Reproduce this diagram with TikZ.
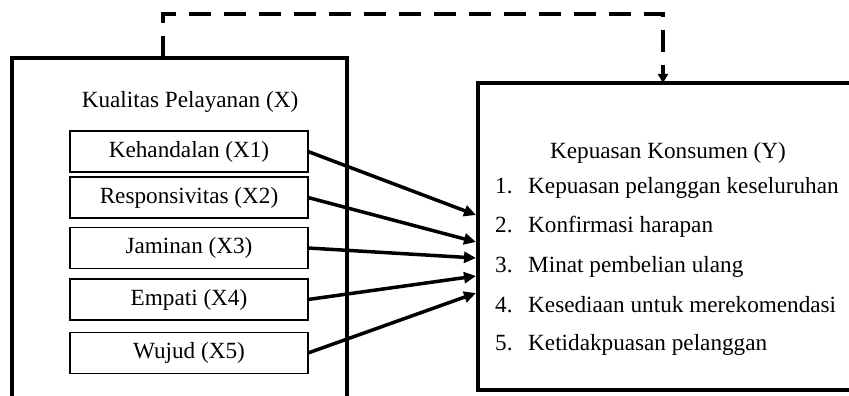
\documentclass[tikz,border=0pt]{standalone}
\usepackage{fontspec}
\setmainfont{Liberation Serif}
\usetikzlibrary{arrows.meta}
\tikzset{
  kotakluar/.style={draw, line width=3.5pt, anchor=north west, inner sep=0pt, outer sep=0pt},
  kotakdimensi/.style={draw, line width=1.6pt, minimum width=238pt, minimum height=41pt, inner sep=0pt, outer sep=0pt},
  teks/.style={anchor=base west, inner sep=0pt},
  judul/.style={anchor=base, inner sep=0pt},
  panah/.style={line width=3.5pt, -{Triangle[length=12pt,width=11pt]}},
  putus/.style={line width=4.5pt, dash pattern=on 22pt off 13pt, -{Triangle[length=9pt,width=10pt]}},
}
\begin{document}
\begin{tikzpicture}[x=1pt,y=-1pt,font=\fontsize{23.2}{27}\selectfont]
      \useasboundingbox (0,0) rectangle (849,396);
      \clip (0,0) rectangle (849,396);
      \node[kotakluar, minimum width=335pt, minimum height=372pt] (kualitas) at (12,58) {};
      \node[kotakluar, minimum width=402pt, minimum height=307pt] (kepuasan) at (478,83) {};
      \node[judul] (judulx) at (190,107) {Kualitas Pelayanan (X)};
      \node[kotakdimensi] (x1) at (189,151.5) {Kehandalan (X1)};
      \node[kotakdimensi] (x2) at (189,197.5) {Responsivitas (X2)};
      \node[kotakdimensi] (x3) at (189,248) {Jaminan (X3)};
      \node[kotakdimensi] (x4) at (189,299.5) {Empati (X4)};
      \node[kotakdimensi] (x5) at (189,353) {Wujud (X5)};
      \node[judul] (juduly) at (668,158) {Kepuasan Konsumen (Y)};
      \node[teks] (n1) at (495,193) {1.};
      \node[teks] (i1) at (528,193) {Kepuasan pelanggan keseluruhan};
      \node[teks] (n2) at (495,232) {2.};
      \node[teks] (i2) at (528,232) {Konfirmasi harapan};
      \node[teks] (n3) at (495,272) {3.};
      \node[teks] (i3) at (528,272) {Minat pembelian ulang};
      \node[teks] (n4) at (495,312) {4.};
      \node[teks] (i4) at (528,312) {Kesediaan untuk merekomendasi};
      \node[teks] (n5) at (495,350) {5.};
      \node[teks] (i5) at (528,350) {Ketidakpuasan pelanggan};
      \coordinate (t1) at (476,215);
      \coordinate (t2) at (476,242);
      \coordinate (t3) at (476,258);
      \coordinate (t4) at (476,276);
      \coordinate (t5) at (476,293);
      \draw[panah] (x1.east) -- (t1);
      \draw[panah] (x2.east) -- (t2);
      \draw[panah] (x3.east) -- (t3);
      \draw[panah] (x4.east) -- (t4);
      \draw[panah] (x5.east) -- (t5);
      \draw[putus] ([xshift=151pt]kualitas.north west) -- ++(0,-44) -| ([xshift=185pt]kepuasan.north west);
    \end{tikzpicture}
\end{document}
